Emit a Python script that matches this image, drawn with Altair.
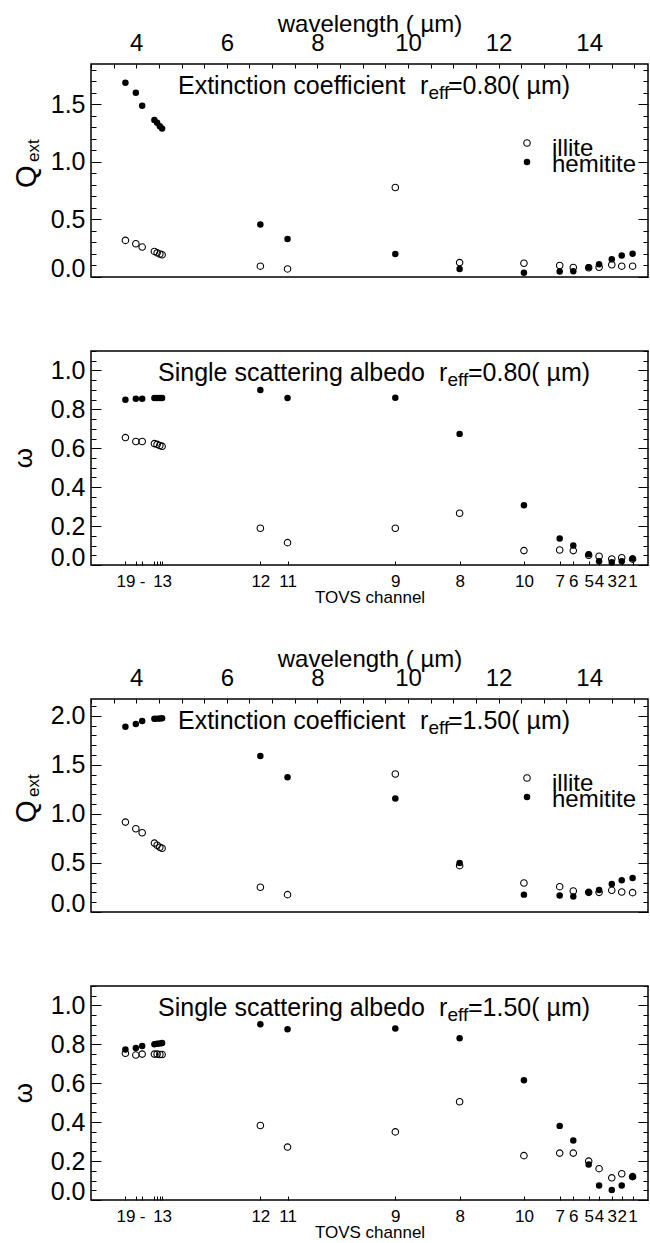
import altair as alt
import pandas as pd

FONT = "Liberation Sans"
W = 557
X_DOMAIN = [3.0, 15.3]

# HIRS / TOVS channels, in plotting order, with their central wavelengths (micron)
channel_numbers = [19, 18, 17, 16, 15, 14, 13, 12, 11, 9, 8, 10, 7, 6, 5, 4, 3, 2, 1]
wavelengths = [3.76, 3.99, 4.13, 4.40, 4.46, 4.52, 4.57, 6.74, 7.34, 9.72, 11.14,
               12.56, 13.35, 13.65, 13.99, 14.22, 14.50, 14.72, 14.96]
channel_tick_labels = ["19", "", "-", "", "", "", "13", "12", "11", "9", "8", "10",
                       "7", "6", "5", "4", "3", "2", "1"]
wavelength_tick_values = [4, 6, 8, 10, 12, 14]
wavelength_minor_ticks = [3.0, 3.5, 4.0, 4.5, 5.0, 5.5, 6.0, 6.5, 7.0, 7.5, 8.0, 8.5,
                          9.0, 9.5, 10.0, 10.5, 11.0, 11.5, 12.0, 12.5, 13.0, 13.5,
                          14.0, 14.5, 15.0]

# Extinction coefficient, r_eff = 0.80
qext_080_illite = [0.318, 0.289, 0.260, 0.222, 0.210, 0.200, 0.193, 0.094, 0.070, 0.777,
                   0.125, 0.119, 0.100, 0.083, 0.080, 0.085, 0.106, 0.094, 0.094]
qext_080_hemitite = [1.688, 1.600, 1.488, 1.363, 1.340, 1.310, 1.290, 0.455, 0.330, 0.200,
                     0.070, 0.036, 0.048, 0.050, 0.085, 0.110, 0.155, 0.187, 0.202]
# Single scattering albedo, r_eff = 0.80
ssa_080_illite = [0.655, 0.635, 0.635, 0.624, 0.620, 0.614, 0.610, 0.189, 0.115, 0.189,
                  0.266, 0.074, 0.077, 0.074, 0.050, 0.045, 0.031, 0.037, 0.030]
ssa_080_hemitite = [0.850, 0.854, 0.855, 0.859, 0.859, 0.859, 0.859, 0.900, 0.859, 0.860,
                    0.674, 0.307, 0.136, 0.100, 0.055, 0.019, 0.014, 0.019, 0.033]
# Extinction coefficient, r_eff = 1.50
qext_150_illite = [0.916, 0.848, 0.807, 0.702, 0.680, 0.660, 0.650, 0.252, 0.177, 1.406,
                   0.472, 0.296, 0.258, 0.214, 0.200, 0.200, 0.221, 0.204, 0.197]
qext_150_hemitite = [1.888, 1.915, 1.945, 1.968, 1.970, 1.972, 1.975, 1.590, 1.373, 1.157,
                     0.499, 0.177, 0.167, 0.157, 0.200, 0.225, 0.286, 0.323, 0.347]
# Single scattering albedo, r_eff = 1.50
ssa_150_illite = [0.754, 0.745, 0.750, 0.750, 0.750, 0.748, 0.748, 0.383, 0.272, 0.350,
                  0.505, 0.228, 0.241, 0.241, 0.200, 0.161, 0.114, 0.135, 0.120]
ssa_150_hemitite = [0.774, 0.781, 0.791, 0.800, 0.803, 0.805, 0.807, 0.903, 0.878, 0.882,
                    0.831, 0.615, 0.381, 0.306, 0.183, 0.075, 0.051, 0.075, 0.119]

qext_080_ticks = [0.0, 0.1, 0.2, 0.3, 0.4, 0.5, 0.6, 0.7, 0.8, 0.9, 1.0, 1.1, 1.2, 1.3,
                  1.4, 1.5, 1.6, 1.7, 1.8]
qext_150_ticks = [0.0, 0.1, 0.2, 0.3, 0.4, 0.5, 0.6, 0.7, 0.8, 0.9, 1.0, 1.1, 1.2, 1.3,
                  1.4, 1.5, 1.6, 1.7, 1.8, 1.9, 2.0, 2.1]
ssa_ticks = [0.0, 0.05, 0.1, 0.15, 0.2, 0.25, 0.3, 0.35, 0.4, 0.45, 0.5, 0.55, 0.6, 0.65,
             0.7, 0.75, 0.8, 0.85, 0.9, 0.95, 1.0, 1.05, 1.1]

one = pd.DataFrame({"k": [0]})


def txt(text, x, y, size, align="left", baseline="alphabetic", angle=0):
    return alt.Chart(one).mark_text(
        text=text, font=FONT, fontSize=size, align=align, baseline=baseline,
        angle=angle, color="black"
    ).encode(x=alt.value(x), y=alt.value(y))


def dot(x, y, filled):
    if filled:
        m = alt.Chart(one).mark_circle(color="black", size=42, opacity=1)
    else:
        m = alt.Chart(one).mark_point(shape="circle", filled=False, color="black",
                                      size=42, strokeWidth=1.1, opacity=1)
    return m.encode(x=alt.value(x), y=alt.value(y))


def panel(illite, hemitite, ymax, height, ticks, major_step, major_labels, top,
          title_main, title_value, kind, zero_offset):
    df = pd.DataFrame({"wl": wavelengths, "ch": channel_numbers,
                       "illite": illite, "hemitite": hemitite})
    xscale = alt.Scale(domain=X_DOMAIN, nice=False, zero=False)
    yscale = alt.Scale(domain=[0, ymax], nice=False, zero=False)
    major_test = f"abs(datum.value/{major_step} - round(datum.value/{major_step})) < 0.001"
    tick_size = {"condition": {"test": major_test, "value": 10}, "value": 5}

    if top:
        x_label_axis = alt.Axis(orient="top", values=wavelength_tick_values, ticks=False,
                                tickSize=0, domain=False, grid=False, labelFontSize=24,
                                labelPadding=9, labelFlush=False, format="d",
                                title="wavelength ( µm)", titleFontSize=24,
                                titlePadding=-5, titleFontWeight="normal")
        x_tick_axis = alt.Axis(orient="bottom", offset=-height, values=wavelength_minor_ticks,
                               labels=False, domain=False, grid=False, tickSize=4, title=None)
    else:
        label_expr = ("[" + ",".join(f"'{l}'" for l in channel_tick_labels) + "][indexof(["
                      + ",".join(repr(v) for v in wavelengths) + "], datum.value)]")
        x_label_axis = alt.Axis(orient="bottom", values=wavelengths, ticks=False, tickSize=0,
                                domain=False, grid=False, labelFontSize=17, labelPadding=8,
                                labelFlush=False, labelOverlap=False, labelExpr=label_expr,
                                title="TOVS channel", titleFontSize=17, titlePadding=0,
                                titleFontWeight="normal")
        x_tick_axis = alt.Axis(orient="top", offset=-height, values=wavelengths,
                               labels=False, domain=False, grid=False, tickSize=4, title=None)

    y_label_axis = alt.Axis(orient="left", values=major_labels, format=".1f", ticks=False,
                            tickSize=0, domain=False, grid=False, labelFontSize=25,
                            labelPadding=6, title=None,
                            labelOffset={"condition": {"test": "datum.value == 0",
                                                       "value": zero_offset}, "value": 0})
    y_left_ticks = alt.Axis(orient="right", offset=-W, values=ticks, labels=False,
                            domain=False, grid=False, tickSize=tick_size, title=None)
    y_right_ticks = alt.Axis(orient="left", offset=-W, values=ticks, labels=False,
                             domain=False, grid=False, tickSize=tick_size, title=None)

    base = alt.Chart(df)
    l1 = base.mark_point(shape="circle", filled=False, color="black", size=42,
                         strokeWidth=1.1, opacity=1).encode(
        x=alt.X("wl:Q", scale=xscale, axis=x_label_axis),
        y=alt.Y("illite:Q", scale=yscale, axis=y_label_axis))
    l2 = base.mark_circle(color="black", size=42, opacity=1).encode(
        x=alt.X("wl:Q", scale=xscale, axis=x_tick_axis),
        y=alt.Y("hemitite:Q", scale=yscale, axis=y_left_ticks))
    l3 = base.mark_circle(opacity=0).encode(
        x=alt.X("wl:Q", scale=xscale, axis=None),
        y=alt.Y("hemitite:Q", scale=yscale, axis=y_right_ticks))

    layers = [l1, l2, l3]
    if kind == "Q":
        layers += [txt(title_main, 87, 30, 25), txt("r", 329, 30, 25),
                   txt("eff", 337.5, 35, 19), txt(title_value, 357, 30, 25),
                   txt("Q", -64, 124, 29, align="left", baseline="middle", angle=270),
                   txt("ext", -57, 98, 17, align="left", baseline="middle", angle=270),
                   dot(436, 79, False), dot(436, 98, True),
                   txt("illite", 461, 92, 24), txt("hemitite", 461, 108, 24)]
    else:
        layers += [txt(title_main, 67, 30, 25), txt("r", 348, 30, 25),
                   txt("eff", 356.5, 35, 19), txt(title_value, 377, 30, 25),
                   txt("ω", -67, height / 2, 26, align="center", baseline="middle", angle=270)]

    return alt.layer(*layers).resolve_axis(x="independent", y="independent").properties(
        width=W, height=height)


p1 = panel(qext_080_illite, qext_080_hemitite, 1.85, 213, qext_080_ticks, 0.5,
           [0.0, 0.5, 1.0, 1.5], True, "Extinction coefficient", "=0.80( µm)", "Q", -9)
p2 = panel(ssa_080_illite, ssa_080_hemitite, 1.1, 214, ssa_ticks, 0.2,
           [0.0, 0.2, 0.4, 0.6, 0.8, 1.0], False, "Single scattering albedo", "=0.80( µm)",
           "w", -8)
p3 = panel(qext_150_illite, qext_150_hemitite, 2.17, 213, qext_150_ticks, 0.5,
           [0.0, 0.5, 1.0, 1.5, 2.0], True, "Extinction coefficient", "=1.50( µm)", "Q", -9)
p4 = panel(ssa_150_illite, ssa_150_hemitite, 1.1, 214, ssa_ticks, 0.2,
           [0.0, 0.2, 0.4, 0.6, 0.8, 1.0], False, "Single scattering albedo", "=1.50( µm)",
           "w", -9)

chart = alt.vconcat(
    alt.vconcat(p1, p2, spacing=67),
    alt.vconcat(p3, p4, spacing=67),
    spacing=40,
).properties(
    padding={"left": 10, "top": 11, "right": 0, "bottom": 0},
    background="white",
).configure_view(
    stroke="black", strokeWidth=1.5
).configure_axis(
    labelFont=FONT, titleFont=FONT, labelColor="black", titleColor="black",
    tickColor="black", tickWidth=1
)

chart.save("out.html", embed_options={"renderer": "svg", "actions": False})
